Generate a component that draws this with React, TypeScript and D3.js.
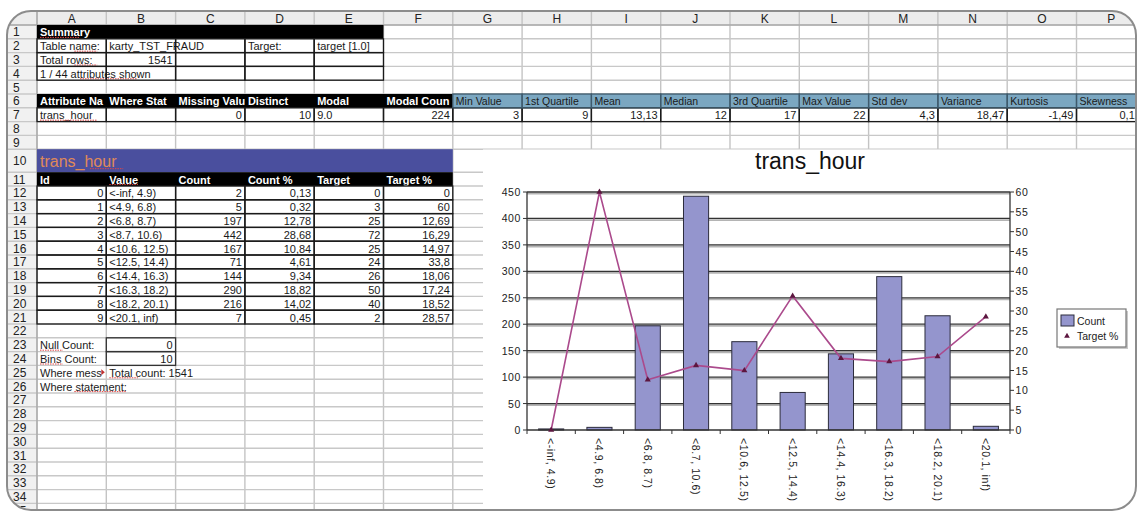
import React from "react";
import * as d3 from "d3";

// chart data (bins of trans_hour)
const binLabels = [
  "<-inf, 4.9)",
  "<4.9, 6.8)",
  "<6.8, 8.7)",
  "<8.7, 10.6)",
  "<10.6, 12.5)",
  "<12.5, 14.4)",
  "<14.4, 16.3)",
  "<16.3, 18.2)",
  "<18.2, 20.1)",
  "<20.1, inf)",
];
const counts = [2, 5, 197, 442, 167, 71, 144, 290, 216, 7];
const countPcts = ["0,13", "0,32", "12,78", "28,68", "10,84", "4,61", "9,34", "18,82", "14,02", "0,45"];
const targets = [0, 3, 25, 72, 25, 24, 26, 50, 40, 2];
const targetPcts = [0, 60, 12.69, 16.29, 14.97, 33.8, 18.06, 17.24, 18.52, 28.57];
const countTicks = [0, 50, 100, 150, 200, 250, 300, 350, 400, 450];
const pctTicks = [0, 5, 10, 15, 20, 25, 30, 35, 40, 45, 50, 55, 60];

// sheet texts (as far as the cells show them)
const columnLetters = ["A", "B", "C", "D", "E", "F", "G", "H", "I", "J", "K", "L", "M", "N", "O", "P"];
const attrHeaders = ["Attribute Na", "Where Stat", "Missing Valu", "Distinct", "Modal", "Modal Coun"];
const statHeaders = ["Min Value", "1st Quartile", "Mean", "Median", "3rd Quartile", "Max Value", "Std dev", "Variance", "Kurtosis", "Skewness"];
const statValues = ["3", "9", "13,13", "12", "17", "22", "4,3", "18,47", "-1,49", "0,1"];
const tableHeaders = ["Id", "Value", "Count", "Count %", "Target", "Target %"];

const W = 1137;
const H = 511;
const FONT = "'Liberation Sans', Arial, sans-serif";

const colW = 69.3;
const colX = (i: number) => 37 + i * colW;
const rowTop = (r: number) => {
  if (r === 0) return 11;
  if (r <= 10) return 25 + (r - 1) * 13.8;
  return 172.2 + (r - 11) * 13.8;
};
const rowH = (r: number) => (r === 0 ? 14 : r === 10 ? 23 : 13.8);

type CellOpts = {
  align?: "left" | "right";
  color?: string;
  bold?: boolean;
  span?: number;
  size?: number;
  spell?: string;
  pad?: number;
};

function cell(key: string, col: number, row: number, text: string, o: CellOpts = {}) {
  const w = colW * (o.span ?? 1);
  const h = rowH(row);
  const size = o.size ?? 11;
  const right = o.align === "right";
  const pad = o.pad ?? 3;
  let underline = null;
  if (o.spell) {
    const idx = text.indexOf(o.spell);
    const cw = size * 0.52;
    underline = (
      <line
        x1={3 + idx * cw}
        x2={3 + (idx + o.spell.length) * cw}
        y1={h / 2 + size * 0.5}
        y2={h / 2 + size * 0.5}
        stroke="#e04848"
        strokeWidth={1}
        strokeDasharray="1.5,1"
      />
    );
  }
  return (
    <svg key={key} x={colX(col)} y={rowTop(row)} width={w} height={h} overflow="hidden">
      <text
        x={right ? w - pad : pad}
        y={h / 2 + 0.5}
        dominantBaseline="central"
        textAnchor={right ? "end" : "start"}
        fontSize={size}
        fontWeight={o.bold ? "bold" : "normal"}
        fill={o.color ?? "#1a1a1a"}
      >
        {text}
      </text>
      {underline}
    </svg>
  );
}

function box(key: string, c0: number, c1: number, r: number, stroke = "#1a1a1a") {
  const out = [];
  for (let c = c0; c <= c1; c++) {
    out.push(
      <rect
        key={`${key}-${c}`}
        x={colX(c)}
        y={rowTop(r)}
        width={colW}
        height={rowH(r)}
        fill="none"
        stroke={stroke}
        strokeWidth={1.3}
      />
    );
  }
  return out;
}

function band(key: string, c0: number, c1: number, r: number, fill: string) {
  return (
    <rect key={key} x={colX(c0)} y={rowTop(r)} width={colX(c1 + 1) - colX(c0)} height={rowH(r)} fill={fill} />
  );
}

export default function App() {
  // chart scales
  const plot = { left: 527, right: 1010, top: 192, bottom: 430 };
  const x = d3
    .scaleBand<string>()
    .domain(binLabels)
    .range([plot.left, plot.right])
    .paddingInner(0.48)
    .paddingOuter(0.24);
  const yCount = d3.scaleLinear().domain([0, 450]).range([plot.bottom, plot.top]);
  const yPct = d3.scaleLinear().domain([0, 60]).range([plot.bottom, plot.top]);
  const cx = (i: number) => (x(binLabels[i]) ?? 0) + x.bandwidth() / 2;
  const line = d3
    .line<number>()
    .x((_, i) => cx(i))
    .y((d) => yPct(d));
  const triangle = d3.symbol(d3.symbolTriangle, 16)() ?? "";
  const legendTri = d3.symbol(d3.symbolTriangle, 14)() ?? "";

  const barFill = "#9495cd";
  const lineColor = "#ab4a8c";
  const markColor = "#5c163f";

  // sheet grid
  const vLines = [];
  for (let i = 0; i <= 16; i++) vLines.push(colX(i));
  const hLines = [];
  for (let r = 0; r <= 36; r++) hLines.push(rowTop(r));

  const cells: React.ReactNode[] = [];
  cells.push(cell("s1", 0, 1, "Summary", { bold: true, color: "#fff", spell: "Summary" }));
  cells.push(cell("a2", 0, 2, "Table name:", { spell: "name" }));
  cells.push(cell("b2", 1, 2, "karty_TST_FRAUD", { span: 2 }));
  cells.push(cell("d2", 3, 2, "Target:"));
  cells.push(cell("e2", 4, 2, "target [1.0]"));
  cells.push(cell("a3", 0, 3, "Total rows:", { spell: "rows" }));
  cells.push(cell("b3", 1, 3, "1541", { align: "right" }));
  cells.push(cell("a4", 0, 4, "1 / 44 attributes shown", { span: 2, spell: "attributes" }));
  attrHeaders.forEach((t, i) => cells.push(cell(`h6-${i}`, i, 6, t, { bold: true, color: "#fff" })));
  statHeaders.forEach((t, i) => cells.push(cell(`g6-${i}`, 6 + i, 6, t, { size: 10.5 })));
  cells.push(cell("a7", 0, 7, "trans_hour", { spell: "trans_hour" }));
  cells.push(cell("c7", 2, 7, "0", { align: "right" }));
  cells.push(cell("d7", 3, 7, "10", { align: "right" }));
  cells.push(cell("e7", 4, 7, "9.0"));
  cells.push(cell("f7", 5, 7, "224", { align: "right" }));
  statValues.forEach((t, i) =>
    cells.push(cell(`g7-${i}`, 6 + i, 7, t, { align: "right", pad: i === 9 ? 11 : 3 }))
  );
  cells.push(cell("a10", 0, 10, "trans_hour", { size: 16, color: "#e08a58", span: 3, spell: "hour" }));
  tableHeaders.forEach((t, i) =>
    cells.push(cell(`h11-${i}`, i, 11, t, { bold: true, color: "#fff", spell: i === 1 ? "Value" : undefined }))
  );
  binLabels.forEach((lab, i) => {
    const r = 12 + i;
    cells.push(cell(`id${i}`, 0, r, String(i), { align: "right" }));
    cells.push(cell(`v${i}`, 1, r, lab));
    cells.push(cell(`c${i}`, 2, r, String(counts[i]), { align: "right" }));
    cells.push(cell(`cp${i}`, 3, r, countPcts[i], { align: "right" }));
    cells.push(cell(`t${i}`, 4, r, String(targets[i]), { align: "right" }));
    cells.push(cell(`tp${i}`, 5, r, String(targetPcts[i]).replace(".", ","), { align: "right" }));
  });
  cells.push(cell("a23", 0, 23, "Null Count:", { spell: "Null" }));
  cells.push(cell("b23", 1, 23, "0", { align: "right" }));
  cells.push(cell("a24", 0, 24, "Bins Count:", { spell: "Bins" }));
  cells.push(cell("b24", 1, 24, "10", { align: "right" }));
  cells.push(cell("a25", 0, 25, "Where mess", {}));
  cells.push(cell("b25", 1, 25, "Total count: 1541", { span: 2, spell: "Total" }));
  cells.push(cell("a26", 0, 26, "Where statement:", { span: 2, spell: "statement" }));

  const borders: React.ReactNode[] = [];
  for (let r = 2; r <= 4; r++) borders.push(...box(`bx${r}`, 0, 4, r));
  borders.push(...box("bx7", 0, 15, 7));
  borders.push(...box("bx6", 6, 15, 6, "#3e5a6c"));
  for (let r = 12; r <= 21; r++) borders.push(...box(`bt${r}`, 0, 5, r));
  borders.push(...box("b23", 1, 1, 23, "#333"));
  borders.push(...box("b24", 1, 1, 24, "#333"));

  const r25 = rowTop(25) + rowH(25) / 2;

  return (
    <svg
      width={W}
      height={H}
      style={{ position: "absolute", left: 0, top: 0, display: "block" }}
      fontFamily={FONT}
    >
      <defs>
        <clipPath id="frame">
          <rect x={7} y={11} width={1129} height={499} rx={24} />
        </clipPath>
      </defs>
      <rect width={W} height={H} fill="#fff" />
      <g clipPath="url(#frame)">
        {/* headers background */}
        <rect x={7} y={11} width={W} height={14} fill="#ececec" />
        <rect x={7} y={25} width={30} height={H} fill="#f1f1f1" />
        {/* gridlines */}
        {vLines.map((v, i) => (
          <line key={`v${i}`} x1={v} x2={v} y1={11} y2={H} stroke="#c4c4c4" strokeWidth={1.4} />
        ))}
        {hLines.map((h, i) => (
          <line key={`h${i}`} x1={7} x2={W} y1={h} y2={h} stroke="#c8c8c8" strokeWidth={1.4} />
        ))}
        <line x1={7} x2={W} y1={25} y2={25} stroke="#9a9a9a" strokeWidth={1} />
        <line x1={37} x2={37} y1={11} y2={H} stroke="#9a9a9a" strokeWidth={1} />
        {columnLetters.map((c, i) => (
          <text key={c} x={colX(i) + colW / 2} y={18.5} textAnchor="middle" dominantBaseline="central" fontSize={12} fill="#222">
            {c}
          </text>
        ))}
        {d3.range(1, 36).map((r) => (
          <text key={`rn${r}`} x={13} y={rowTop(r) + rowH(r) / 2 + 0.5} dominantBaseline="central" fontSize={12} fill="#222">
            {r}
          </text>
        ))}

        {/* colored bands */}
        {band("r1", 0, 4, 1, "#000")}
        {band("r6", 0, 5, 6, "#000")}
        {band("r6b", 6, 15, 6, "#7ba7c1")}
        {band("r10", 0, 5, 10, "#4a4f9e")}
        {band("r11", 0, 5, 11, "#000")}
        {cells}
        {borders}
        {/* clipped-text arrow in A25 */}
        <path
          d={`M${colX(1) - 5},${r25 - 3}L${colX(1) - 1.5},${r25}L${colX(1) - 5},${r25 + 3}Z`}
          fill="#c03030"
        />

        {/* embedded chart */}
        <rect x={483} y={149.5} width={W - 483} height={H - 149.5} fill="#fff" />
        <text x={810} y={169} textAnchor="middle" fontSize={23} fill="#111">
          trans_hour
        </text>

        {countTicks.slice(1).map((t) => (
          <g key={`g${t}`}>
            <line x1={plot.left} x2={plot.right} y1={yCount(t) + 1.6} y2={yCount(t) + 1.6} stroke="#b4b4b4" strokeWidth={1.8} />
            <line x1={plot.left} x2={plot.right} y1={yCount(t)} y2={yCount(t)} stroke="#333" strokeWidth={1.3} />
          </g>
        ))}

        {counts.map((c, i) => (
          <rect
            key={`bar${i}`}
            x={x(binLabels[i])}
            y={yCount(c)}
            width={x.bandwidth()}
            height={plot.bottom - yCount(c)}
            fill={barFill}
            stroke="#2c2c3c"
            strokeWidth={1}
          />
        ))}

        {/* axes */}
        <line x1={plot.left} x2={plot.left} y1={plot.top} y2={plot.bottom} stroke="#333" strokeWidth={1.3} />
        <line x1={plot.right} x2={plot.right} y1={plot.top} y2={plot.bottom} stroke="#333" strokeWidth={1.3} />
        <line x1={plot.left} x2={plot.right} y1={plot.bottom} y2={plot.bottom} stroke="#333" strokeWidth={1.3} />
        {countTicks.map((t) => (
          <g key={`lt${t}`}>
            <line x1={plot.left - 4} x2={plot.left} y1={yCount(t)} y2={yCount(t)} stroke="#333" />
            <text x={plot.left - 6} y={yCount(t)} textAnchor="end" dominantBaseline="central" fontSize={10.5} letterSpacing={0.6} fill="#222">
              {t}
            </text>
          </g>
        ))}
        {pctTicks.map((t) => (
          <g key={`rt${t}`}>
            <line x1={plot.right} x2={plot.right + 4} y1={yPct(t)} y2={yPct(t)} stroke="#333" />
            <text x={plot.right + 5.5} y={yPct(t)} dominantBaseline="central" fontSize={10.5} letterSpacing={0.6} fill="#222">
              {t}
            </text>
          </g>
        ))}
        {d3.range(binLabels.length + 1).map((i) => (
          <line
            key={`xt${i}`}
            x1={plot.left + i * x.step()}
            x2={plot.left + i * x.step()}
            y1={plot.bottom}
            y2={plot.bottom + 4}
            stroke="#333"
          />
        ))}
        {binLabels.map((lab, i) => (
          <text
            key={`xl${i}`}
            transform={`translate(${cx(i)},${plot.bottom + 8}) rotate(90)`}
            dominantBaseline="central"
            fontSize={10.5}
            letterSpacing={0.6}
            fill="#222"
          >
            {lab}
          </text>
        ))}

        {/* target % line */}
        <path d={line(targetPcts) ?? ""} fill="none" stroke={lineColor} strokeWidth={1.6} />
        {targetPcts.map((v, i) => (
          <path key={`m${i}`} d={triangle} transform={`translate(${cx(i)},${yPct(v)})`} fill={markColor} />
        ))}

        {/* legend */}
        <rect x={1059} y={311} width={69} height={38} fill="#c8c8c8" />
        <rect x={1057} y={309} width={69} height={38} fill="#fff" stroke="#777" strokeWidth={1.2} />
        <rect x={1061} y={315} width={13} height={11} fill={barFill} stroke="#2c2c3c" />
        <text x={1077} y={321} dominantBaseline="central" fontSize={10.5} fill="#222">
          Count
        </text>
        <path d={legendTri} transform="translate(1067,336)" fill={markColor} />
        <text x={1077} y={336} dominantBaseline="central" fontSize={10.5} fill="#222">
          Target %
        </text>
      </g>
      <rect x={7} y={11} width={1129} height={499} rx={24} fill="none" stroke="#8c8c8c" strokeWidth={2} />
    </svg>
  );
}
